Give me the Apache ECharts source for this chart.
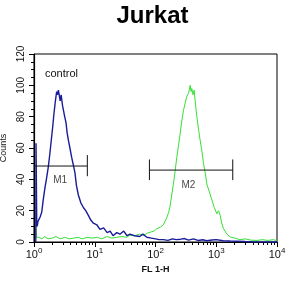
<!DOCTYPE html>
<html><head><meta charset="utf-8">
<script src="https://cdn.jsdelivr.net/npm/echarts@6/dist/echarts.min.js"></script>
<style>html,body{margin:0;padding:0;background:#fff}#c{width:305px;height:296px}</style>
</head><body><div id="c"></div>
<script>
const titleText = 'Jurkat';
const xName = 'FL 1-H';
const yName = 'Counts';
const xTickExponents = ['0','1','2','3','4'];

const controlX = [1.07,1.08,1.095,1.11,1.13,1.16,1.2,1.26,1.34,1.42,1.52,1.6,1.72,1.82,1.95,2.05,2.13,2.25,2.36,2.45,2.52,2.61,2.7,2.8,2.86,2.95,3.04,3.2,3.37,3.5,3.68,3.9,4.17,4.45,4.73,5.0,5.37,5.9,6.5,7.1,7.85,8.6,9.5,10.8,12.2,14,16,17.9,20,23,26,30,34,38,45,55,62,72,85,100,115,135,160,190,220,260,300,350,420,500,600,700,850,1000,1300,1700,2200,3000,4000,6000,10000];
const controlY = [0,63,62,12,10,13,14,16,19,27,35,40,48,56,67,75,82,90,96,94,97,96,90,94,91,87,86,80,76,70,65,60,54,49,44,36,30,25,22,20,17,14,12,11,8,9,6,7,4,6,5,7,4,5,4,3.5,5,3,2.5,2,1.5,1.5,1,2,1.5,1.8,2.2,1.2,2,1,1.4,0.8,1.3,1.5,0.8,0.6,0.5,0.3,0.2,0.1,0];

const sampleX = [1.06,1.075,1.095,1.12,1.2,1.35,1.5,1.7,2,2.3,2.7,3.2,3.8,4.5,5.3,6.2,7.5,9,11,13,16,19,23,28,33,38,45,55,65,72,85,95,105,120,135,144,155,165,174,185,197,210,224,240,254,270,289,305,328,350,372,385,396,415,433,455,479,510,543,580,617,660,700,770,846,930,1023,1090,1160,1230,1318,1500,1700,2000,2460,3000,3700,4680,5800,7000,8750,10000];
const sampleY = [14,12,3,2,3,2,3.5,2,2.5,3.5,2,3,2,2.5,3,2,3,2.5,3,2,3.5,2.5,3,3.5,3,4.3,4,5,4.5,5.5,6.5,7,8.5,9.5,11,12,16,19,23,30,37,45,54,62,69,77,84,88,93,95,100,96,98,94,97,88,80,72,65,58,50,44,37,32,27,22,18,20,17,12,8.5,5,3.2,2.5,1.5,2,1.2,1,1.5,1,1.5,0.8];

const gateNames = ['M1','M2'];
const gateStart = [1, 79.4];
const gateEnd = [7.55, 1870];
const gateLevel = [48.5, 45.9];
const gateTickLow = [42, 39.5];
const gateTickHigh = [55.5, 52.7];
const gateLeftTick = [false, true];
const gateLabelX = [2.7, 348];
const gateLabelY = [39.5, 36.3];

const chart = echarts.init(document.getElementById('c'), null, {renderer:'canvas'});

const toPairs = (xs, ys) => xs.map((x,i)=>[x, ys[i]]);
const series = [];
series.push({type:'line', data: toPairs(sampleX, sampleY), symbol:'none', clip:false, lineStyle:{color:'#36e036', width:1}, animation:false, z:2});
series.push({type:'line', data: toPairs(controlX, controlY), symbol:'none', clip:false, lineStyle:{color:'#1a1d9a', width:1.4}, animation:false, z:3});
gateNames.forEach((n,i)=>{
  const ls = {color:'#111', width:1};
  series.push({type:'line', data:[[gateStart[i],gateLevel[i]],[gateEnd[i],gateLevel[i]]], symbol:'none', lineStyle:ls, animation:false, z:4});
  series.push({type:'line', data:[[gateEnd[i],gateTickLow[i]],[gateEnd[i],gateTickHigh[i]]], symbol:'none', lineStyle:ls, animation:false, z:4});
  if (gateLeftTick[i]) series.push({type:'line', data:[[gateStart[i],gateTickLow[i]],[gateStart[i],gateTickHigh[i]]], symbol:'none', lineStyle:ls, animation:false, z:4});
  series.push({type:'scatter', data:[[gateLabelX[i],gateLabelY[i]]], symbolSize:0, animation:false, z:5,
    label:{show:true, position:'inside', formatter:n, color:'#111', fontSize:10, fontFamily:'Liberation Sans, Arial'}});
});

chart.setOption({
  backgroundColor:'#fff',
  animation:false,
  title:{text:titleText, left:'center', top:-1, textStyle:{fontSize:24, fontWeight:'bold', color:'#000', fontFamily:'Liberation Sans, Arial'}},
  grid:{left:34, right:28, top:54, bottom:54, outerBoundsMode:'none', containLabel:false, show:true, borderColor:'#000', borderWidth:1, backgroundColor:'transparent'},
  xAxis:{type:'log', logBase:10, min:1, max:10000,
    name:xName, nameLocation:'middle', nameGap:22, nameTextStyle:{fontSize:9, fontWeight:'bold', color:'#111', fontFamily:'Liberation Sans, Arial'},
    axisLine:{show:true, lineStyle:{color:'#000', width:1}},
    axisTick:{show:true, length:5, inside:false, lineStyle:{color:'#000'}},
    minorTick:{show:true, splitNumber:9, length:3, lineStyle:{color:'#000'}},
    splitLine:{show:false},
    axisLabel:{margin:5, formatter:(v,idx)=> '{b|10}{s|' + xTickExponents[idx] + '}',
      rich:{b:{fontSize:11, color:'#111', fontFamily:'Liberation Sans, Arial'}, s:{fontSize:8, color:'#111', fontFamily:'Liberation Sans, Arial', padding:[0,0,8,0]}}}
  },
  yAxis:{type:'value', min:0, max:120, interval:20,
    name:yName, nameLocation:'middle', nameGap:25, nameRotate:90, nameTextStyle:{fontSize:9, color:'#111', fontFamily:'Liberation Sans, Arial'},
    axisLine:{show:true, lineStyle:{color:'#000', width:1.2}},
    axisTick:{show:true, length:5, lineStyle:{color:'#000'}},
    minorTick:{show:true, splitNumber:4, length:3, lineStyle:{color:'#000'}},
    splitLine:{show:false},
    axisLabel:{rotate:90, margin:8, fontSize:10, color:'#111', fontFamily:'Liberation Sans, Arial'}
  },
  graphic:[{type:'text', left:45, top:68, style:{text:'control', fontSize:11, fill:'#111', fontFamily:'Liberation Sans, Arial'}}],
  series: series
});
</script></body></html>
